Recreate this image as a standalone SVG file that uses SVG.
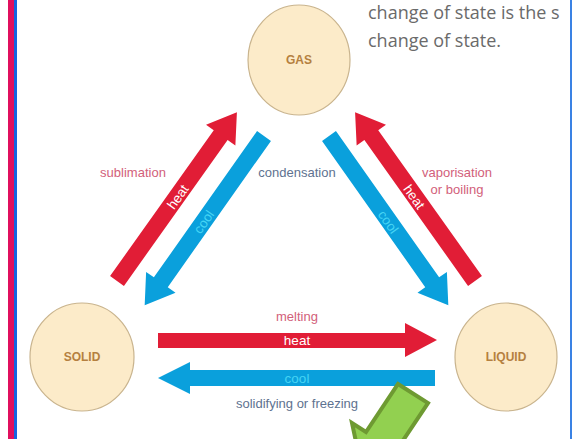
<svg xmlns="http://www.w3.org/2000/svg" width="573" height="439" viewBox="0 0 573 439">
<style>
.state{fill:#fcebc9;stroke:#c9b48e;stroke-width:1.2}
.slab{font-family:"Liberation Sans",Arial,sans-serif;font-weight:bold;font-size:12px;fill:#b5803f;text-anchor:middle}
.red{fill:#e11d36}
.blue{fill:#0aa0dc}
.lbl{font-family:"Liberation Sans",Arial,sans-serif;font-size:13px;text-anchor:middle}
.pink{fill:#d2607a}
.grey{fill:#5e7290}
.on{font-family:"Liberation Sans",Arial,sans-serif;font-size:13.5px;text-anchor:middle}
.white{fill:#ffffff}
.cyan{fill:#45d4f4}
.note{font-family:"Open Sans","Liberation Sans",sans-serif;font-size:18px;fill:#6a6a6a}
</style>
<defs>
<clipPath id="clipR"><rect x="0" y="0" width="566" height="439"/></clipPath>
</defs>
<rect width="573" height="439" fill="#ffffff"/>
<rect x="8" y="0" width="6" height="439" fill="#e0105e"/>
<rect x="14" y="0" width="3" height="439" fill="#1565e0"/>
<rect x="570" y="0" width="2" height="439" fill="#3a82e4"/>
<g clip-path="url(#clipR)">
<text class="note" x="368" y="19">change of state is the s</text>
<text class="note" x="368" y="47">change of state.</text>
</g>
<g id="gas"><ellipse class="state" cx="299" cy="60" rx="51" ry="55"/><text class="slab" x="299" y="64">GAS</text></g>
<g id="solid"><ellipse class="state" cx="82" cy="357" rx="52" ry="54"/><text class="slab" x="82" y="361">SOLID</text></g>
<g id="liquid"><ellipse class="state" cx="506" cy="357" rx="51" ry="54"/><text class="slab" x="506" y="361">LIQUID</text></g>
<g id="connectors">
<g transform="translate(117,281) rotate(-54.6)"><polygon class="red" points="0,-8.5 179,-8.5 179,-18 207,0 179,18 179,8.5 0,8.5"/></g>
<g transform="translate(264,136) rotate(125.2)"><polygon class="blue" points="0,-8.5 179,-8.5 179,-18 207,0 179,18 179,8.5 0,8.5"/></g>
<g transform="translate(329,136) rotate(54.8)"><polygon class="blue" points="0,-8.5 179,-8.5 179,-18 207,0 179,18 179,8.5 0,8.5"/></g>
<g transform="translate(475,281) rotate(-125.4)"><polygon class="red" points="0,-8.5 179,-8.5 179,-18 207,0 179,18 179,8.5 0,8.5"/></g>
<polygon class="red" points="158,333 405,333 405,323 437,340 405,357 405,348 158,348"/>
<polygon class="blue" points="435,370 190,370 190,362 158,378 190,394 190,386 435,386"/>
<text class="on white" transform="translate(178,197) rotate(-54.6)" y="4.5">heat</text>
<text class="on cyan" transform="translate(204,222) rotate(-54.8)" y="4.5">cool</text>
<text class="on white" transform="translate(414,197) rotate(54.6)" y="4.5">heat</text>
<text class="on cyan" transform="translate(388,222) rotate(54.8)" y="4.5">cool</text>
<text class="on white" x="297" y="345">heat</text>
<text class="on cyan" x="297" y="383">cool</text>
<text class="lbl pink" x="133" y="177">sublimation</text>
<text class="lbl grey" x="297" y="177">condensation</text>
<text class="lbl pink" x="457" y="177">vaporisation</text>
<text class="lbl pink" x="457" y="194">or boiling</text>
<text class="lbl pink" x="297" y="321">melting</text>
<text class="lbl grey" x="297" y="408">solidifying or freezing</text>
</g>
<polygon points="398,384 428,403 396,451 410,460 362,470 352,423 366,432" fill="#92d050" stroke="#6e9a32" stroke-width="4" stroke-linejoin="miter"/>
</svg>
